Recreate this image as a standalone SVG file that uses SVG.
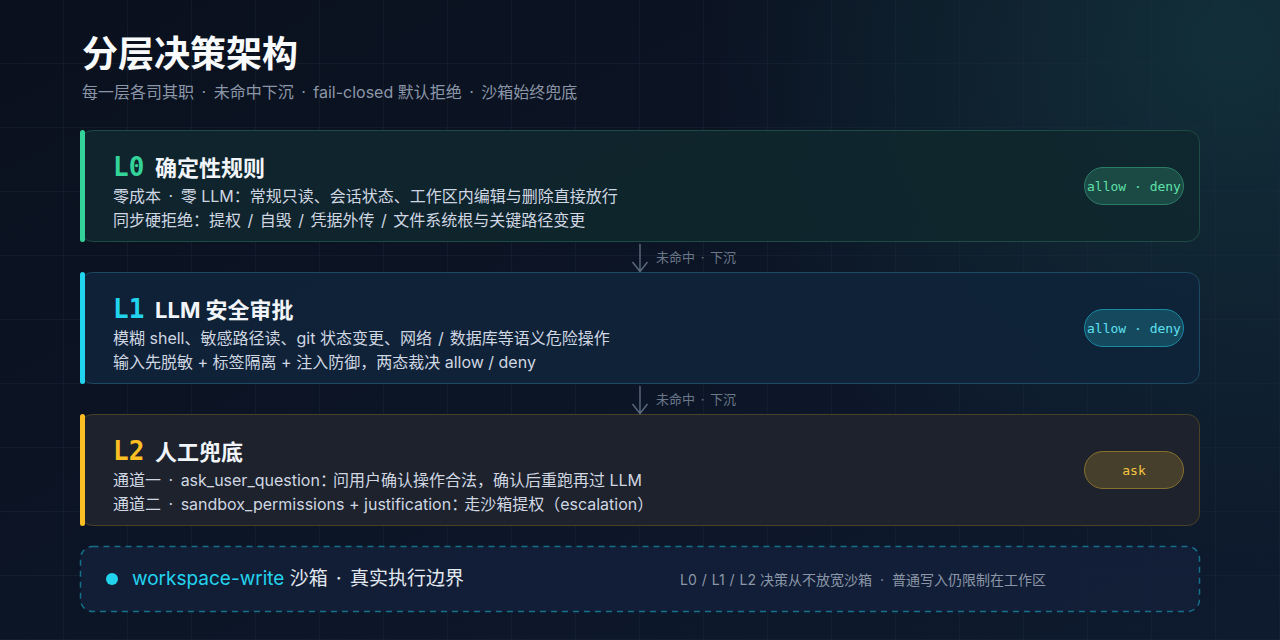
<svg xmlns="http://www.w3.org/2000/svg" width="1280" height="640" viewBox="0 0 1280 640">
<defs>
<linearGradient id="bg" x1="0" y1="0" x2="1" y2="1">
<stop offset="0" stop-color="#0a101d"/>
<stop offset="1" stop-color="#0e1a2e"/>
</linearGradient>
<radialGradient id="glow" cx="1230" cy="40" r="520" gradientUnits="userSpaceOnUse">
<stop offset="0" stop-color="#14383f" stop-opacity="0.75"/>
<stop offset="1" stop-color="#14383f" stop-opacity="0"/>
</radialGradient>
<pattern id="grid" width="64" height="64" patternUnits="userSpaceOnUse">
<path d="M64 0V64M0 64H64" fill="none" stroke="#1c2a3a" stroke-width="1" opacity="0.7"/>
</pattern>
</defs>
<style>
.cjk{font-family:"Inter","Noto Sans CJK SC",sans-serif}
.title{font-size:36px;font-weight:700;fill:#f8fafc}
.sub{font-size:16px;fill:#8b97a8}
.lv{font-family:"DejaVu Sans Mono","Liberation Mono",monospace;font-size:26px;font-weight:700}
.head{font-size:22px;font-weight:700;fill:#f1f5f9}
.desc{font-size:16px;fill:#d0d7e2}
.pill{font-family:"DejaVu Sans Mono","Liberation Mono",monospace;font-size:13px}
.lbl{font-size:13px;fill:#6b7889}
.arrow{fill:none;stroke:#5b6a7d;stroke-width:1.4}
</style>
<rect width="1280" height="640" fill="url(#bg)"/>
<rect width="1280" height="640" fill="url(#glow)"/>
<rect width="1280" height="640" fill="url(#grid)"/>

<g id="header" class="cjk">
<text x="82" y="67" class="title">分层决策架构</text>
<text x="82" y="98" class="sub">每一层各司其职 <tspan dx="3">·</tspan><tspan dx="3"> 未命中下沉 </tspan><tspan dx="3">·</tspan><tspan dx="3"> fail-closed 默认拒绝 </tspan><tspan dx="3">·</tspan><tspan dx="3"> 沙箱始终兜底</tspan></text>
</g>

<g id="L0">
<rect x="80.5" y="130.5" width="1119" height="111" rx="12" fill="#10272d" fill-opacity="0.9" stroke="#1d4a45"/>
<rect x="80" y="130" width="5" height="112" rx="2.5" fill="#34d399"/>
<text x="113" y="176" class="lv" fill="#34d399">L0</text>
<text x="155" y="176" class="cjk head">确定性规则</text>
<text x="113" y="202" class="cjk desc">零成本 <tspan dx="3">·</tspan><tspan dx="3"> 零 LLM：常规只读、会话状态、工作区内编辑与删除直接放行</tspan></text>
<text x="113" y="226" class="cjk desc">同步硬拒绝：提权 <tspan dx="2">/</tspan><tspan dx="2"> 自毁 </tspan><tspan dx="2">/</tspan><tspan dx="2"> 凭据外传 </tspan><tspan dx="2">/</tspan><tspan dx="2"> 文件系统根与关键路径变更</tspan></text>
<rect x="1084.5" y="167.5" width="99" height="37" rx="18.5" fill="#1b4a45" stroke="#2c7d68"/>
<text x="1134" y="191" class="pill" fill="#5ee0a8" text-anchor="middle">allow · deny</text>
</g>

<g id="L1">
<rect x="80.5" y="272.5" width="1119" height="111" rx="12" fill="#10233a" fill-opacity="0.9" stroke="#1b4a60"/>
<rect x="80" y="272" width="5" height="112" rx="2.5" fill="#22d3ee"/>
<text x="113" y="318" class="lv" fill="#22d3ee">L1</text>
<text x="155" y="318" class="cjk head">LLM 安全审批</text>
<text x="113" y="344" class="cjk desc">模糊 shell、敏感路径读、git 状态变更、网络 <tspan dx="1.5">/</tspan><tspan dx="1.5"> 数据库等语义危险操作</tspan></text>
<text x="113" y="368" class="cjk desc">输入先脱敏 + 标签隔离 + 注入防御，两态裁决 allow / deny</text>
<rect x="1084.5" y="309.5" width="99" height="37" rx="18.5" fill="#154a5e" stroke="#1a8aa5"/>
<text x="1134" y="333" class="pill" fill="#5fe0f0" text-anchor="middle">allow · deny</text>
</g>

<g id="L2">
<rect x="80.5" y="414.5" width="1119" height="111" rx="12" fill="#1f232d" fill-opacity="0.95" stroke="#4a4226"/>
<rect x="80" y="414" width="5" height="112" rx="2.5" fill="#fbbf24"/>
<text x="113" y="460" class="lv" fill="#fbbf24">L2</text>
<text x="155" y="460" class="cjk head">人工兜底</text>
<text x="113" y="486" class="cjk desc">通道一 <tspan dx="3">·</tspan><tspan dx="3"> ask_user_question：</tspan><tspan dx="-3">问用户确认操作合法，确认后重跑再过 LLM</tspan></text>
<text x="113" y="510" class="cjk desc">通道二 <tspan dx="3">·</tspan><tspan dx="3"> sandbox_permissions + justification：</tspan><tspan dx="-3">走沙箱提权（escalation）</tspan></text>
<rect x="1084.5" y="451.5" width="99" height="37" rx="18.5" fill="#463f2b" stroke="#87702e"/>
<text x="1134" y="475" class="pill" fill="#f5c542" text-anchor="middle">ask</text>
</g>

<g id="sandbox">
<rect x="80.5" y="546.5" width="1119" height="65" rx="12" fill="#14203a" fill-opacity="0.85" stroke="#15708a" stroke-width="1.5" stroke-dasharray="6 5"/>
<circle cx="112" cy="579" r="6" fill="#22d3ee"/>
<text x="132" y="585" class="cjk" font-size="19"><tspan fill="#22d3ee">workspace-write</tspan><tspan fill="#e2e8f0"> 沙箱 </tspan><tspan fill="#e2e8f0" dx="3">·</tspan><tspan fill="#e2e8f0" dx="3"> 真实执行边界</tspan></text>
<text x="680" y="585" class="cjk" font-size="14" fill="#8b97a8">L0 <tspan dx="1">/</tspan><tspan dx="1"> L1 </tspan><tspan dx="1">/</tspan><tspan dx="1"> L2 决策从不放宽沙箱 </tspan><tspan dx="4">·</tspan><tspan dx="4"> 普通写入仍限制在工作区</tspan></text>
</g>

<g id="connectors">
<path class="arrow" d="M640 244V271M632.5 262L640 271.5L647.5 262"/>
<text x="656" y="262" class="cjk lbl">未命中 <tspan dx="2">·</tspan><tspan dx="2"> 下沉</tspan></text>
<path class="arrow" d="M640 386V413M632.5 404L640 413.5L647.5 404"/>
<text x="656" y="404" class="cjk lbl">未命中 <tspan dx="2">·</tspan><tspan dx="2"> 下沉</tspan></text>
</g>
</svg>
